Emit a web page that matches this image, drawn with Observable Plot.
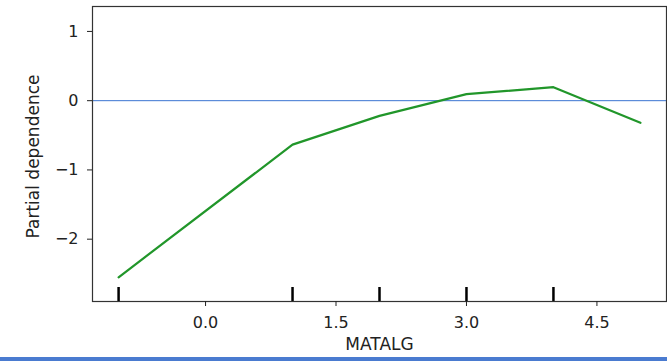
<!DOCTYPE html>
<html>
<head>
<meta charset="utf-8">
<script src="https://cdn.jsdelivr.net/npm/d3@7"></script>
<script src="https://cdn.jsdelivr.net/npm/@observablehq/plot@0.6"></script>
<style>
  html, body { margin: 0; padding: 0; background: #fff; overflow: hidden; }
  #bar { width: 667px; height: 4px; background: #4a7bd0; }
  svg { display: block; }
</style>
</head>
<body>
<div id="chart"></div>
<div id="bar"></div>
<script>
// Data
const featureValues = [-1, 1, 2, 3, 4, 5];
const partialDependence = [-2.55, -0.635, -0.22, 0.095, 0.195, -0.32];
const deciles = [-1, 1, 2, 3, 4];
const xTicks = [0, 1.5, 3.0, 4.5];
const yTicks = [-2, -1, 0, 1];
const xLabel = "MATALG";
const yLabel = "Partial dependence";

const data = featureValues.map((x, i) => ({x, y: partialDependence[i]}));

const chart = Plot.plot({
  width: 667,
  height: 357,
  marginLeft: 92,
  marginRight: 1,
  marginTop: 6,
  marginBottom: 56,
  style: {fontFamily: "DejaVu Sans", fontSize: "16px", color: "#222", background: "#fff"},
  x: {domain: [-1.3, 5.3]},
  y: {domain: [-2.9, 1.36]},
  marks: [
    Plot.ruleY([0], {stroke: "#3b75d1", strokeWidth: 1}),
    Plot.line(data, {x: "x", y: "y", stroke: "#21962a", strokeWidth: 2.2}),
    Plot.ruleX(deciles, {x: d => d, insetTop: 281, stroke: "#000", strokeWidth: 2.5}),
    Plot.frame({stroke: "#333", strokeWidth: 1.2}),
    Plot.axisX({ticks: xTicks, tickFormat: d3.format(".1f"), tickSize: 5, tickPadding: 10, label: null}),
    Plot.axisY({ticks: yTicks, tickFormat: d3.format(".0f"), tickSize: 5, tickPadding: 9, label: null}),
    Plot.text([xLabel], {frameAnchor: "bottom", dy: 48, fontSize: 17, fill: "#222"}),
    Plot.text([yLabel], {frameAnchor: "left", textAnchor: "middle", rotate: -90, dx: -59, dy: 2.5, fontSize: 17, fill: "#222"})
  ]
});
document.getElementById("chart").appendChild(chart);
</script>
</body>
</html>
